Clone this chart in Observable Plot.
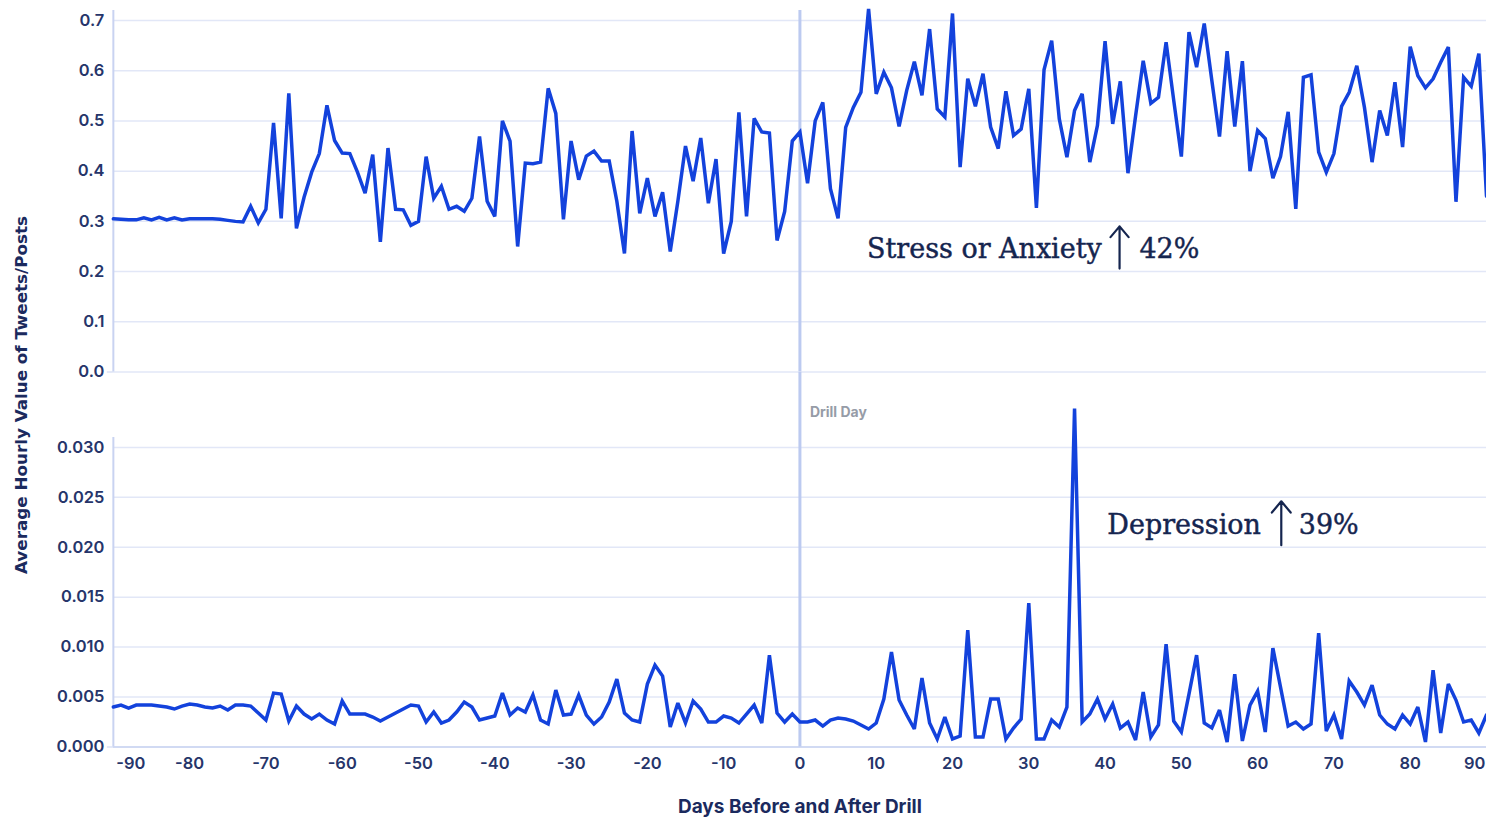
<!DOCTYPE html>
<html>
<head>
<meta charset="utf-8">
<script src="https://cdn.jsdelivr.net/npm/d3@7"></script>
<script src="https://cdn.jsdelivr.net/npm/@observablehq/plot@0.6"></script>
<style>
  html, body { margin: 0; padding: 0; background: #fff; overflow: hidden; width: 1486px; height: 818px; }
  #wrap { position: relative; width: 1486px; height: 818px; overflow: hidden; }
  #top { position: absolute; left: 0; top: 0; }
  #bottom { position: absolute; left: 0; top: 372px; }
  #ytitle { position: absolute; left: 0; top: 0; }
  svg text { font-variant-numeric: normal !important; }
</style>
</head>
<body>
<div id="wrap">
  <div id="top"></div>
  <div id="bottom"></div>
  <div id="ytitle"></div>
</div>
<script>
// ---------- data ----------
const days = d3.range(-90, 91); // days before/after drill

const stressValues = [
  0.305, 0.304, 0.303, 0.303, 0.307, 0.303, 0.308, 0.303, 0.307, 0.303,   // -90..-81
  0.305, 0.305, 0.305, 0.305, 0.304, 0.302, 0.300, 0.299, 0.330, 0.297,   // -80..-71
  0.324, 0.496, 0.306, 0.555, 0.286, 0.348, 0.398, 0.435, 0.531, 0.461,   // -70..-61
  0.436, 0.435, 0.398, 0.356, 0.433, 0.259, 0.446, 0.324, 0.323, 0.292,   // -60..-51
  0.300, 0.429, 0.346, 0.370, 0.324, 0.330, 0.320, 0.346, 0.469, 0.340,   // -50..-41
  0.310, 0.500, 0.460, 0.250, 0.416, 0.415, 0.418, 0.565, 0.515, 0.304,   // -40..-31
  0.460, 0.383, 0.430, 0.440, 0.420, 0.420, 0.340, 0.236, 0.480, 0.316,   // -30..-21
  0.386, 0.310, 0.358, 0.240, 0.340, 0.450, 0.380, 0.466, 0.336, 0.424,   // -20..-11
  0.236, 0.300, 0.517, 0.310, 0.505, 0.478, 0.476, 0.262, 0.320, 0.460,   // -10..-1
  0.478, 0.376, 0.500, 0.537, 0.365, 0.306, 0.487, 0.527, 0.557, 0.723,   // 0..9
  0.554, 0.597, 0.566, 0.489, 0.561, 0.618, 0.551, 0.683, 0.524, 0.508,   // 10..19
  0.714, 0.408, 0.584, 0.529, 0.594, 0.488, 0.445, 0.559, 0.471, 0.484,   // 20..29
  0.564, 0.327, 0.602, 0.660, 0.504, 0.428, 0.521, 0.554, 0.418, 0.491,   // 30..39
  0.659, 0.494, 0.579, 0.396, 0.510, 0.620, 0.535, 0.547, 0.657, 0.541,   // 40..49
  0.429, 0.677, 0.607, 0.694, 0.580, 0.469, 0.639, 0.489, 0.619, 0.400,   // 50..59
  0.481, 0.465, 0.386, 0.429, 0.518, 0.325, 0.587, 0.592, 0.438, 0.398,   // 60..69
  0.435, 0.529, 0.557, 0.610, 0.527, 0.418, 0.521, 0.471, 0.577, 0.448,   // 70..79
  0.648, 0.590, 0.566, 0.584, 0.617, 0.647, 0.339, 0.587, 0.569, 0.634,   // 80..89
  0.350                                                                   // 90
];

const depressionValues = [
  0.0040, 0.0042, 0.0039, 0.0042, 0.0042, 0.0042, 0.0041, 0.0040, 0.0038, 0.0041, // -90..-81
  0.0043, 0.0042, 0.0040, 0.0039, 0.0041, 0.0037, 0.0042, 0.0042, 0.0041, 0.0034, // -80..-71
  0.0027, 0.0054, 0.0053, 0.0026, 0.0041, 0.0033, 0.0028, 0.0033, 0.0027, 0.0023, // -70..-61
  0.0046, 0.0033, 0.0033, 0.0033, 0.0030, 0.0026, 0.0030, 0.0034, 0.0038, 0.0042, // -60..-51
  0.0041, 0.0025, 0.0035, 0.0024, 0.0027, 0.0035, 0.0045, 0.0040, 0.0027, 0.0029, // -50..-41
  0.0031, 0.0054, 0.0032, 0.0039, 0.0035, 0.0052, 0.0027, 0.0023, 0.0057, 0.0032, // -40..-31
  0.0033, 0.0052, 0.0032, 0.0023, 0.0030, 0.0045, 0.0068, 0.0034, 0.0027, 0.0025, // -30..-21
  0.0063, 0.0082, 0.0071, 0.0020, 0.0044, 0.0024, 0.0046, 0.0038, 0.0025, 0.0025, // -20..-11
  0.0031, 0.0029, 0.0024, 0.0033, 0.0042, 0.0024, 0.0092, 0.0034, 0.0025, 0.0033, // -10..-1
  0.0025, 0.0025, 0.0027, 0.0021, 0.0027, 0.0029, 0.0028, 0.0026, 0.0022, 0.0018, // 0..9
  0.0024, 0.0048, 0.0095, 0.0047, 0.0032, 0.0018, 0.0069, 0.0024, 0.0008, 0.0030, // 10..19
  0.0008, 0.0011, 0.0117, 0.0010, 0.0010, 0.0048, 0.0048, 0.0008, 0.0019, 0.0028, // 20..29
  0.0144, 0.0008, 0.0008, 0.0027, 0.0020, 0.0040, 0.0339, 0.0025, 0.0033, 0.0048, // 30..39
  0.0028, 0.0043, 0.0019, 0.0025, 0.0007, 0.0055, 0.0010, 0.0022, 0.0103, 0.0026, // 40..49
  0.0015, 0.0053, 0.0092, 0.0024, 0.0019, 0.0037, 0.0005, 0.0073, 0.0006, 0.0042, // 50..59
  0.0056, 0.0015, 0.0099, 0.0060, 0.0021, 0.0025, 0.0018, 0.0023, 0.0114, 0.0016, // 60..69
  0.0032, 0.0008, 0.0066, 0.0055, 0.0042, 0.0062, 0.0032, 0.0023, 0.0018, 0.0032, // 70..79
  0.0023, 0.0040, 0.0005, 0.0077, 0.0014, 0.0063, 0.0047, 0.0025, 0.0027, 0.0014, // 80..89
  0.0032                                                                          // 90
];

const xTicks = [-90, -80, -70, -60, -50, -40, -30, -20, -10, 0, 10, 20, 30, 40, 50, 60, 70, 80, 90];
const stressTicks = [0, 0.1, 0.2, 0.3, 0.4, 0.5, 0.6, 0.7];
const depressionTicks = [0, 0.005, 0.010, 0.015, 0.020, 0.025, 0.030];

const stressLabel = ["Stress or Anxiety", "42%"];
const depressionLabel = ["Depression", "39%"];
const xTitle = "Days Before and After Drill";
const yTitle = "Average Hourly Value of Tweets/Posts";
const drillLabel = "Drill Day";

// ---------- styling ----------
const lineColor = "#1342dc";
const gridColor = "#e2e7f7";
const axisColor = "#c9d3f1";
const drillColor = "#bccaf0";
const tickColor = "#26356a";
const titleColor = "#1b2a5e";
const annColor = "#15254f";
const sansFont = "Inter, 'Noto Sans', sans-serif";
const serifFont = "'DejaVu Serif', 'Liberation Serif', serif";

const stress = days.map((d, i) => ({day: d, value: stressValues[i]}));
const depression = days.map((d, i) => ({day: d, value: depressionValues[i]}));

const W = 1488;
const xDomain = [xTicks[0], xTicks[xTicks.length - 1]];
const midTicks = xTicks.slice(1, -1);

const common = {
  width: W, marginLeft: 113, marginRight: 0,
  style: {overflow: "visible", background: "transparent", fontFamily: sansFont}
};

const tickText = {fontSize: 16.5, fontWeight: 600, fill: tickColor, fontVariant: "normal", label: null};
const annText = {textAnchor: "start", fontFamily: serifFont, fontSize: 27, fill: annColor,
  stroke: annColor, strokeWidth: 0.45, text: d => d};
const arrowStyle = {stroke: annColor, strokeWidth: 2.2, headLength: 11, headAngle: 80};

// ---------- top panel: stress or anxiety ----------
const topPlot = Plot.plot({
  ...common,
  height: 372, marginTop: 10, marginBottom: 0,
  x: {domain: xDomain, axis: null},
  y: {domain: [0, 0.72], axis: null},
  marks: [
    Plot.gridY(stressTicks, {stroke: gridColor, strokeOpacity: 1, strokeWidth: 1.5}),
    Plot.axisY(stressTicks, {tickFormat: d3.format(".1f"), tickSize: 0, tickPadding: 9, ...tickText}),
    Plot.axisY([0], {tickSize: 6, tickFormat: () => "", stroke: axisColor, label: null}),
    Plot.ruleX([xDomain[0]], {y1: 0, y2: 0.72, stroke: axisColor, strokeWidth: 2}),
    Plot.ruleX([0], {stroke: drillColor, strokeWidth: 3}),
    Plot.line(stress, {x: "day", y: "value", stroke: lineColor, strokeWidth: 3.5, strokeLinejoin: "miter", strokeMiterlimit: 3}),
    Plot.text([stressLabel[0]], {x: () => 8.8, y: () => 0.245, ...annText}),
    Plot.arrow([0], {x1: () => 41.9, x2: () => 41.9, y1: () => 0.206, y2: () => 0.29, ...arrowStyle}),
    Plot.text([stressLabel[1]], {x: () => 44.5, y: () => 0.245, ...annText})
  ]
});
document.getElementById("top").appendChild(topPlot);

// ---------- bottom panel: depression ----------
const bottomPlot = Plot.plot({
  ...common,
  height: 446, marginTop: 0, marginBottom: 71,
  x: {domain: xDomain, axis: null},
  y: {domain: [0, 0.0375], axis: null},
  marks: [
    Plot.gridY(depressionTicks, {stroke: gridColor, strokeOpacity: 1, strokeWidth: 1.5}),
    Plot.ruleY([0], {stroke: axisColor, strokeWidth: 1.5}),
    Plot.axisY(depressionTicks, {tickFormat: d3.format(".3f"), tickSize: 0, tickPadding: 9, ...tickText}),
    Plot.axisY([0], {tickSize: 6, tickFormat: () => "", stroke: axisColor, label: null}),
    Plot.ruleX([xDomain[0]], {y1: 0, y2: 0.031, stroke: axisColor, strokeWidth: 2}),
    Plot.ruleX([0], {stroke: drillColor, strokeWidth: 3}),
    Plot.axisX(midTicks, {tickSize: 0, tickPadding: 10, tickFormat: d => String(d), ...tickText}),
    Plot.axisX([xDomain[0]], {tickSize: 0, tickPadding: 10, tickFormat: d => String(d), textAnchor: "start", dx: 3, ...tickText}),
    Plot.axisX([xDomain[1]], {tickSize: 0, tickPadding: 10, tickFormat: d => String(d), textAnchor: "end", dx: -1, ...tickText}),
    Plot.text([drillLabel], {x: () => 0, frameAnchor: "top", lineAnchor: "middle", dy: 40, dx: 10, text: d => d,
      textAnchor: "start", fontSize: 14, fontWeight: 700, fill: "#969ca7"}),
    Plot.line(depression, {x: "day", y: "value", stroke: lineColor, strokeWidth: 3.5, strokeLinejoin: "miter", strokeMiterlimit: 3}),
    Plot.text([depressionLabel[0]], {x: () => 40.3, y: () => 0.0222, ...annText}),
    Plot.arrow([0], {x1: () => 63.1, x2: () => 63.1, y1: () => 0.0202, y2: () => 0.0246, ...arrowStyle}),
    Plot.text([depressionLabel[1]], {x: () => 65.4, y: () => 0.0222, ...annText}),
    Plot.text([xTitle], {frameAnchor: "bottom", lineAnchor: "middle", dy: 60, text: d => d,
      fontSize: 19, fontWeight: 700, fill: titleColor})
  ]
});
document.getElementById("bottom").appendChild(bottomPlot);

// ---------- shared y-axis title ----------
const ysvg = d3.create("svg").attr("width", 44).attr("height", 818);
ysvg.append("text")
  .attr("transform", "translate(27,395) rotate(-90)")
  .attr("text-anchor", "middle")
  .attr("font-family", "'DejaVu Sans Condensed', 'DejaVu Sans', sans-serif")
  .attr("font-stretch", "condensed")
  .attr("font-weight", 700)
  .attr("font-size", 15)
  .attr("fill", titleColor)
  .attr("textLength", 358)
  .attr("lengthAdjust", "spacingAndGlyphs")
  .text(yTitle);
document.getElementById("ytitle").appendChild(ysvg.node());
</script>
</body>
</html>
